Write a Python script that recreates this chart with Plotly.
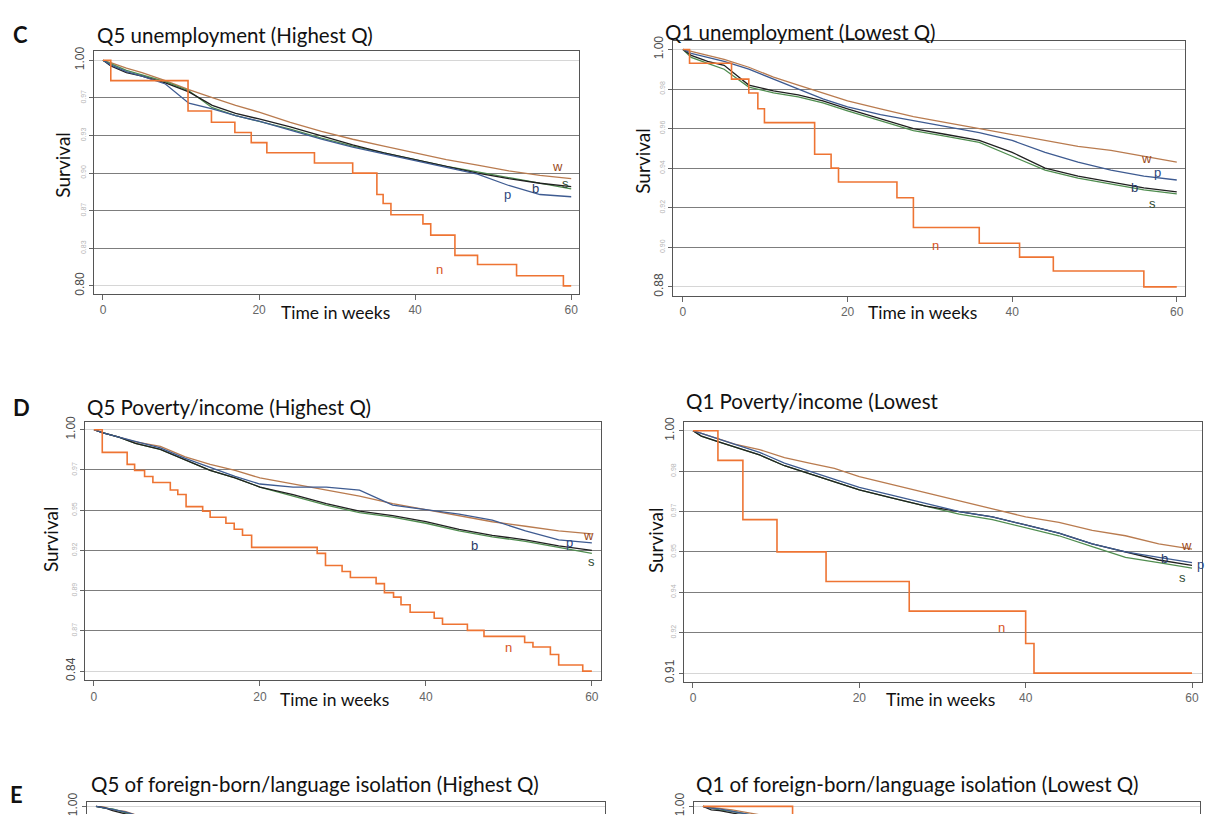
import plotly.graph_objects as go

W, H = 1219, 816

# ---------------- data ----------------
T = [0, 1, 3, 5, 8, 11, 14, 17, 20, 24, 28, 32, 36, 40, 44, 48, 52, 56, 60]

# C: Q5 unemployment (Highest Q)
c5_w = [1.000,0.998,0.993,0.989,0.982,0.974,0.967,0.960,0.954,0.945,0.937,0.930,0.924,0.918,0.912,0.907,0.902,0.898,0.895]
c5_s = [1.000,0.997,0.991,0.987,0.981,0.973,0.958,0.951,0.946,0.939,0.931,0.924,0.918,0.912,0.906,0.901,0.896,0.891,0.886]
c5_b = [1.000,0.995,0.989,0.986,0.980,0.972,0.960,0.953,0.948,0.941,0.933,0.925,0.918,0.912,0.906,0.900,0.895,0.891,0.888]
c5_p = [1.000,0.996,0.990,0.986,0.979,0.962,0.957,0.951,0.946,0.938,0.930,0.923,0.917,0.911,0.905,0.899,0.889,0.881,0.879]
c5_n_t = [0, 1, 10.9, 13.9, 16.9, 19, 21, 27.1, 32, 35.1, 35.9, 36.9, 41, 42, 45.1, 48, 53, 59, 60]
c5_n = [1.000,0.982,0.955,0.945,0.936,0.927,0.918,0.909,0.900,0.881,0.873,0.863,0.855,0.845,0.827,0.819,0.809,0.800,0.800]

# C: Q1 unemployment (Lowest Q)
c1_w = [1.000,0.999,0.997,0.995,0.991,0.986,0.982,0.978,0.974,0.970,0.966,0.963,0.960,0.957,0.954,0.951,0.949,0.946,0.943]
c1_p = [1.000,0.998,0.996,0.994,0.990,0.985,0.980,0.975,0.971,0.967,0.964,0.961,0.958,0.954,0.948,0.943,0.939,0.936,0.934]
c1_b = [1.000,0.997,0.994,0.992,0.982,0.979,0.977,0.974,0.970,0.965,0.960,0.957,0.954,0.948,0.940,0.936,0.933,0.930,0.928]
c1_s = [1.000,0.996,0.993,0.990,0.981,0.978,0.976,0.973,0.969,0.964,0.959,0.956,0.953,0.946,0.939,0.935,0.932,0.929,0.927]
c1_n_t = [0, 0.8, 5.9, 8, 9.1, 9.9, 16, 18, 18.9, 26, 28, 36, 40.9, 45, 56, 60]
c1_n = [1.000,0.993,0.985,0.978,0.970,0.963,0.947,0.940,0.933,0.925,0.910,0.902,0.895,0.888,0.880,0.880]

# D: Q5 Poverty/income (Highest Q)
d5_w = [1.000,0.998,0.995,0.992,0.989,0.982,0.977,0.973,0.968,0.964,0.960,0.956,0.951,0.947,0.943,0.939,0.936,0.933,0.931]
d5_p = [1.000,0.998,0.995,0.992,0.988,0.981,0.975,0.969,0.964,0.962,0.962,0.960,0.950,0.947,0.944,0.940,0.933,0.927,0.925]
d5_b = [1.000,0.998,0.995,0.991,0.987,0.980,0.973,0.968,0.962,0.957,0.951,0.946,0.943,0.939,0.934,0.930,0.927,0.923,0.920]
d5_s = [1.000,0.998,0.995,0.991,0.987,0.980,0.973,0.968,0.962,0.956,0.950,0.945,0.942,0.938,0.933,0.929,0.926,0.922,0.918]
d5_n_t = [0, 1, 4, 4.9, 6.1, 7.1, 9.2, 10.1, 11.1, 13.1, 14, 15.9, 16.9, 17.9, 19, 26.9, 27.9, 29.9,
          30.9, 34, 35, 36.1, 37, 38.1, 41, 42, 45, 47, 51.9, 52.9, 55, 56, 58.9, 60]
d5_n = [1.000,0.985,0.977,0.973,0.969,0.965,0.960,0.957,0.949,0.946,0.942,0.938,0.934,0.930,0.922,0.918,0.910,0.906,
        0.902,0.898,0.892,0.889,0.884,0.879,0.875,0.871,0.867,0.863,0.859,0.856,0.851,0.844,0.840,0.840]

# D: Q1 Poverty/income (Lowest
d1_w = [1.000,0.999,0.997,0.995,0.993,0.990,0.988,0.986,0.983,0.980,0.977,0.974,0.971,0.968,0.966,0.963,0.961,0.958,0.956]
d1_p = [1.000,0.999,0.997,0.995,0.992,0.988,0.985,0.982,0.979,0.976,0.973,0.970,0.968,0.965,0.962,0.958,0.955,0.953,0.951]
d1_b = [1.000,0.998,0.996,0.994,0.991,0.987,0.984,0.981,0.978,0.975,0.972,0.970,0.968,0.965,0.962,0.958,0.955,0.952,0.950]
d1_s = [1.000,0.998,0.996,0.994,0.991,0.987,0.984,0.981,0.978,0.975,0.972,0.969,0.967,0.964,0.961,0.957,0.953,0.951,0.949]
d1_n_t = [0, 3, 6, 10.1, 16, 26, 40, 41, 60]
d1_n = [1.000,0.989,0.967,0.955,0.944,0.933,0.921,0.910,0.910]

# E: only the top strip is visible
e_t = [0, 1, 2, 3.5, 8]
e5_w = [1.000, 0.9995, 0.998, 0.997, 0.990]
e5_s = [1.000, 0.999, 0.9985, 0.9965, 0.990]
e5_b = [1.000, 0.9992, 0.9975, 0.996, 0.990]
e5_p = [1.000, 0.9993, 0.9982, 0.9968, 0.990]
e1_w = [1.000, 0.9995, 0.999, 0.998, 0.994]
e1_s = [1.000, 0.999, 0.998, 0.997, 0.993]
e1_b = [1.000, 0.998, 0.9975, 0.9965, 0.992]
e1_p = [1.000, 0.999, 0.9985, 0.9975, 0.993]
e1_n_t = [0, 10.8, 60]
e1_n = [1.000, 0.985, 0.985]

x_ticks = [0, 20, 40, 60]
x_tick_text = ["0", "20", "40", "60"]

c5_yt = [0.80, 0.8333, 0.8667, 0.90, 0.9333, 0.9667, 1.00]
c5_yl = ["0.80", "0.83", "0.87", "0.90", "0.93", "0.97", "1.00"]
c1_yt = [0.88, 0.90, 0.92, 0.94, 0.96, 0.98, 1.00]
c1_yl = ["0.88", "0.90", "0.92", "0.94", "0.96", "0.98", "1.00"]
d5_yt = [0.84, 0.8667, 0.8933, 0.92, 0.9467, 0.9733, 1.00]
d5_yl = ["0.84", "0.87", "0.89", "0.92", "0.95", "0.97", "1.00"]
d1_yt = [0.91, 0.925, 0.94, 0.955, 0.97, 0.985, 1.00]
d1_yl = ["0.91", "0.92", "0.94", "0.95", "0.97", "0.98", "1.00"]
e_yt = [1.00]
e_yl = ["1.00"]

titles = ["Q5 unemployment (Highest Q)", "Q1 unemployment (Lowest Q)",
          "Q5 Poverty/income (Highest Q)", "Q1 Poverty/income (Lowest",
          "Q5 of foreign-born/language isolation (Highest Q)",
          "Q1 of foreign-born/language isolation (Lowest Q)"]
panel_letters = ["C", "D", "E"]

# ---------------- styling ----------------
COL = dict(w="#b97b4f", s="#4f8d4f", b="#202020", p="#3e5b91", n="#ee7433")
LAB = dict(w="#9a4a22", s="#2f4a2f", b="#283a66", p="#2e4680", n="#d9541e")

FONT = "Lato"

panels = [
    dict(frame=(94, 579, 42, 288), xr=[-1.15, 61.0], yr=[0.793, 1.0079], yt=c5_yt, yl=c5_yl,
         series=dict(w=c5_w, s=c5_s, b=c5_b, p=c5_p), n=(c5_n_t, c5_n),
         labels=dict(w=(58.3, 0.906), s=(59.3, 0.891), b=(55.4, 0.886), p=(51.8, 0.881), n=(43.1, 0.8145)),
         title=(95, 25), surv=(63, 157), tw=(335, 307)),
    dict(frame=(673, 1185, 31, 290), xr=[-1.21, 61.0], yr=[0.8755, 1.0045], yt=c1_yt, yl=c1_yl,
         series=dict(w=c1_w, p=c1_p, b=c1_b, s=c1_s), n=(c1_n_t, c1_n),
         labels=dict(w=(56.3, 0.9448), p=(57.6, 0.9377), b=(54.9, 0.930), s=(57.1, 0.922), n=(30.7, 0.9007)),
         title=(663, 22), surv=(643, 153), tw=(922, 307)),
    dict(frame=(85, 601, 418, 680), xr=[-1.08, 61.1], yr=[0.8341, 1.0052], yt=d5_yt, yl=d5_yl,
         series=dict(w=d5_w, p=d5_p, b=d5_b, s=d5_s), n=(d5_n_t, d5_n),
         labels=dict(w=(59.6, 0.930), b=(45.8, 0.9234), p=(57.3, 0.9255), s=(59.9, 0.9125), n=(50.0, 0.8557)),
         title=(85, 403), surv=(50, 537), tw=(334, 700)),
    dict(frame=(684, 1202, 418, 682), xr=[-1.08, 61.2], yr=[0.9067, 1.0033], yt=d1_yt, yl=d1_yl,
         series=dict(w=d1_w, p=d1_p, b=d1_b, s=d1_s), n=(d1_n_t, d1_n),
         labels=dict(w=(59.3, 0.9573), b=(56.7, 0.9527), p=(61.0, 0.9502), s=(58.8, 0.9454), n=(37.1, 0.927)),
         title=(684, 397), surv=(655, 538), tw=(940, 700)),
    dict(frame=(87, 605, 804, 816), xr=[-1.08, 61.3], yr=[0.99551, 1.0025], yt=e_yt, yl=e_yl,
         series=dict(w=e5_w, s=e5_s, b=e5_b, p=e5_p), n=None, labels={},
         title=(89, 786), surv=None, tw=None, strip=True),
    dict(frame=(694, 1200, 804, 816), xr=[-1.08, 59.9], yr=[0.99551, 1.0025], yt=e_yt, yl=e_yl,
         series=dict(w=e1_w, s=e1_s, b=e1_b, p=e1_p), n=(e1_n_t, e1_n), labels={},
         title=(694, 786), surv=None, tw=None, strip=True),
]


def px_x(x):
    return x / W


def px_y(y):
    return 1 - y / H


fig = go.Figure()
annotations = []
np_ = len(panels)

for i, pn in enumerate(panels):
    k = i + 1
    ko = i + 1 + np_  # overlay y axis id
    xa = "x" if k == 1 else f"x{k}"
    ya = "y" if k == 1 else f"y{k}"
    yo = f"y{ko}"
    l, r, t, b = pn["frame"]
    strip = pn.get("strip", False)

    # smooth-ish KM curves
    t_arr = T if not strip else e_t
    for key in ["w", "s", "b", "p"]:
        if key in pn["series"]:
            fig.add_trace(go.Scatter(x=t_arr, y=pn["series"][key], mode="lines",
                                     line=dict(color=COL[key], width=1.3, shape="linear"),
                                     xaxis=xa, yaxis=ya, showlegend=False, hoverinfo="skip"))
    # step curve n on overlay axis (drawn on top)
    if pn["n"] is not None:
        fig.add_trace(go.Scatter(x=pn["n"][0], y=pn["n"][1], mode="lines",
                                 line=dict(color=COL["n"], width=1.6, shape="hv"),
                                 xaxis=xa, yaxis=yo, showlegend=False, hoverinfo="skip"))
    else:
        fig.add_trace(go.Scatter(x=[pn["xr"][0]], y=[pn["yr"][0] - 1], mode="lines",
                                 xaxis=xa, yaxis=yo, showlegend=False, hoverinfo="skip"))

    yt, yl = pn["yt"], pn["yl"]
    if strip:
        mid_v, mid_t = [], []
        ext_v, ext_t = yt, yl
    else:
        mid_v, mid_t = yt[1:-1], yl[1:-1]
        ext_v, ext_t = [yt[0], yt[-1]], [yl[0], yl[-1]]

    xdom = [px_x(l), px_x(r)]
    ydom = [px_y(b), px_y(t)]

    xaxis = dict(domain=xdom, range=pn["xr"], anchor=ya, showgrid=False, zeroline=False,
                 showline=True, linecolor="#555555", linewidth=1.2,
                 tickmode="array", tickvals=x_ticks, ticktext=x_tick_text,
                 ticks="outside", ticklen=5, tickcolor="#666666",
                 tickfont=dict(family="Liberation Sans", size=12, color="#666666"))
    if strip:
        xaxis.update(side="top", mirror=False, ticks="", showticklabels=False)
    else:
        xaxis.update(mirror=True)
    fig.layout[f"xaxis{k}" if k > 1 else "xaxis"] = xaxis

    yaxis = dict(domain=ydom, range=pn["yr"], anchor=xa, zeroline=False,
                 showline=True, mirror=True, linecolor="#555555", linewidth=1.2,
                 tickmode="array", tickvals=mid_v, ticktext=mid_t, tickangle=-90,
                 showgrid=True, gridcolor="#7d7d7d", gridwidth=1,
                 ticks="outside", ticklen=4, tickcolor="#666666",
                 tickfont=dict(family="Liberation Sans", size=7, color="#b5b5b5"))
    fig.layout[f"yaxis{k}" if k > 1 else "yaxis"] = yaxis

    yover = dict(overlaying=ya, anchor=xa, side="left", range=pn["yr"], zeroline=False,
                 showline=False, tickmode="array", tickvals=ext_v, ticktext=ext_t, tickangle=-90,
                 showgrid=True, gridcolor="#d6d6d6", gridwidth=1,
                 ticks="outside", ticklen=4, tickcolor="#666666", ticklabeloverflow="allow",
                 tickfont=dict(family="Liberation Sans", size=12, color="#4a4a4a"))
    fig.layout[f"yaxis{ko}"] = yover

    # curve labels
    for key, (lx, ly) in pn["labels"].items():
        annotations.append(dict(x=lx, y=ly, xref=xa, yref=ya, text=key, showarrow=False,
                                font=dict(family="Liberation Sans", size=13, color=LAB[key]),
                                xanchor="center", yanchor="middle"))

    # title
    tx, ty = pn["title"]
    annotations.append(dict(x=px_x(tx), y=px_y(ty), xref="paper", yref="paper", text=titles[i],
                            showarrow=False, xanchor="left", yanchor="middle",
                            font=dict(family=FONT, size=20.5, color="#111111")))
    if pn["surv"] is not None:
        sx, sy = pn["surv"]
        annotations.append(dict(x=px_x(sx), y=px_y(sy), xref="paper", yref="paper", text="Survival",
                                showarrow=False, textangle=-90, xanchor="center", yanchor="middle",
                                font=dict(family=FONT, size=19, color="#111111")))
    if pn["tw"] is not None:
        wx, wy = pn["tw"]
        annotations.append(dict(x=px_x(wx), y=px_y(wy), xref="paper", yref="paper", text="Time in weeks",
                                showarrow=False, xanchor="center", yanchor="middle",
                                font=dict(family=FONT, size=17.5, color="#111111")))

for letter, (lx, ly) in zip(panel_letters, [(20, 25), (21, 403), (16, 796)]):
    annotations.append(dict(x=px_x(lx), y=px_y(ly), xref="paper", yref="paper", text=f"<b>{letter}</b>",
                            showarrow=False, xanchor="center", yanchor="middle",
                            font=dict(family=FONT, size=22, color="#111111")))

fig.update_layout(width=W, height=H, margin=dict(l=0, r=0, t=0, b=0),
                  paper_bgcolor="white", plot_bgcolor="white", showlegend=False,
                  annotations=annotations)

fig.write_html("out.html", config={"displayModeBar": False},
               post_script="document.body.style.margin='0';document.body.style.overflow='hidden';")
